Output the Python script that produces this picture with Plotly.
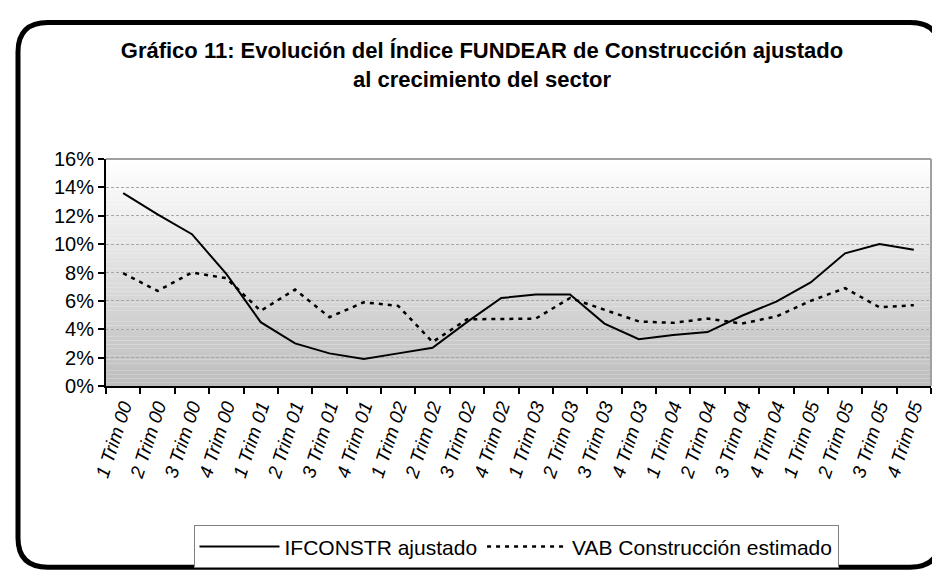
import plotly.graph_objects as go

# ---- data ----
categories = [f"{q} Trim {y:02d}" for y in range(0, 6) for q in range(1, 5)]
ifconstr = [13.6, 12.1, 10.7, 7.9, 4.5, 3.0, 2.3, 1.9, 2.3, 2.7, 4.5, 6.2,
            6.45, 6.45, 4.4, 3.3, 3.6, 3.8, 4.95, 5.95, 7.3, 9.35, 10.0, 9.6]
vab = [7.95, 6.7, 8.0, 7.6, 5.3, 6.8, 4.85, 5.9, 5.65, 3.1, 4.7, 4.75,
       4.75, 6.2, 5.4, 4.55, 4.45, 4.75, 4.4, 4.9, 6.0, 6.9, 5.55, 5.7]
series_names = ["IFCONSTR ajustado", "VAB Construcción estimado"]
yticks = [0, 2, 4, 6, 8, 10, 12, 14, 16]
title_text = "Gráfico 11: Evolución del Índice FUNDEAR de Construcción ajustado<br>al crecimiento del sector"

W, H = 940, 573
L, R, T, B = 98, 923, 151, 384
FONT = "Liberation Sans, Arial, sans-serif"

def px(x):
    return (x - L) / (R - L)

def py(y):
    return (B - y) / (B - T)

fig = go.Figure()
fig.add_trace(go.Scatter(x=categories, y=ifconstr, name=series_names[0], mode="lines",
                         line=dict(color="black", width=2)))
fig.add_trace(go.Scatter(x=categories, y=vab, name=series_names[1], mode="lines",
                         line=dict(color="black", width=2.5, dash="4px,5px")))

shapes = []
# gradient background of plot area
n = 60
for i in range(n):
    t = i / (n - 1)
    c = int(round(255 - (255 - 190) * t))
    shapes.append(dict(type="rect", xref="x domain", yref="y domain",
                       x0=0, x1=1, y0=1 - (i + 1) / n, y1=1 - i / n,
                       fillcolor=f"rgb({c},{c},{c})", line=dict(width=0), layer="below"))
# plot area border (top/right gray)
shapes.append(dict(type="line", xref="x domain", yref="y domain", x0=0, x1=1, y0=1, y1=1,
                   line=dict(color="#a0a0a0", width=2)))
shapes.append(dict(type="line", xref="x domain", yref="y domain", x0=1, x1=1, y0=0, y1=1,
                   line=dict(color="#a0a0a0", width=2)))
# rounded chart border
x0, x1, y0, y1, r = 10, 932, 11, 570, 30
def P(x, y):
    return f"{px(x):.5f},{py(y):.5f}"
path = (f"M {P(x0 + r, y0)} L {P(x1 - r, y0)} Q {P(x1, y0)} {P(x1, y0 + r)} "
        f"L {P(x1, y1 - r)} Q {P(x1, y1)} {P(x1 - r, y1)} "
        f"L {P(x0 + r, y1)} Q {P(x0, y1)} {P(x0, y1 - r)} "
        f"L {P(x0, y0 + r)} Q {P(x0, y0)} {P(x0 + r, y0)} Z")
shapes.append(dict(type="path", xref="paper", yref="paper", path=path,
                   line=dict(color="black", width=5), fillcolor="rgba(0,0,0,0)"))

fig.update_layout(
    width=W, height=H,
    margin=dict(l=L, r=W - R, t=T, b=H - B),
    paper_bgcolor="white", plot_bgcolor="rgba(0,0,0,0)",
    font=dict(family=FONT, color="black", size=19),
    title=dict(text=f"<b>{title_text}</b>", x=474 / W, xanchor="center",
               y=1 - 50 / H, yanchor="top", yref="container",
               font=dict(family=FONT, size=22, color="black")),
    showlegend=True,
    legend=dict(orientation="h", x=px(508), xanchor="center", y=py(527), yanchor="top",
                bordercolor="#808080", borderwidth=1, bgcolor="white",
                font=dict(family=FONT, size=21), itemwidth=80,
                tracegroupgap=0),
    shapes=shapes,
)
fig.update_xaxes(type="category", categoryorder="array", categoryarray=categories,
                 range=[-0.5, len(categories) - 0.5],
                 showline=True, linecolor="black", linewidth=2,
                 ticks="outside", tickson="boundaries", ticklen=6, tickwidth=2, tickcolor="black",
                 tickangle=-72, showgrid=False,
                 tickfont=dict(family=FONT, size=19, style="italic"),
                 zeroline=False)
fig.update_yaxes(range=[0, 16], tickvals=yticks, ticktext=[f"{v}%" for v in yticks],
                 showline=True, linecolor="black", linewidth=2,
                 ticks="outside", ticklen=6, tickwidth=2, tickcolor="black",
                 showgrid=True, gridcolor="#a8a8a8", gridwidth=1, griddash="3px,2px",
                 zeroline=False, tickfont=dict(family=FONT, size=20))

fig.write_html("out.html")
